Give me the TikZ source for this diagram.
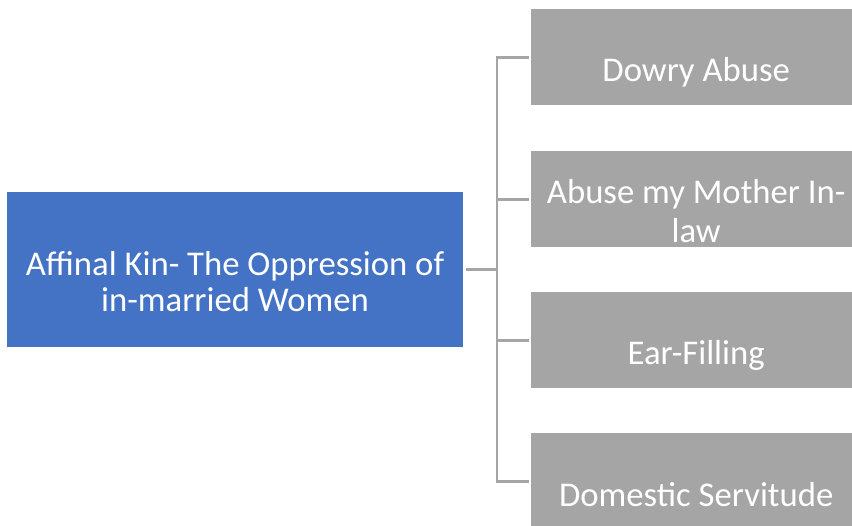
\documentclass[tikz,border=0pt]{standalone}
\usepackage{fontspec}
\setmainfont{Carlito}
\usetikzlibrary{calc}
\definecolor{hubblue}{HTML}{4472C4}
\definecolor{leafgray}{HTML}{A5A5A5}
\definecolor{linkgray}{HTML}{A5A5A5}
\begin{document}
\begin{tikzpicture}[x=1pt,y=-1pt,
  hub/.style={fill=hubblue, draw=none, minimum width=456pt, minimum height=155pt, inner sep=0pt},
  leaf/.style={fill=leafgray, draw=none, minimum width=330pt, minimum height=96pt, inner sep=0pt, anchor=north west},
  caption/.style={text=white, align=center, anchor=base, inner sep=0pt},
  link/.style={draw=linkgray, line width=2.8pt}]
  \useasboundingbox (0,0) rectangle (852,526);
  \clip (0,0) rectangle (852,526);

  % central topic
  \node[hub] (hub) at (235,269.5) {};
  % branch boxes
  \node[leaf] (l1) at (531,9) {};
  \node[leaf] (l2) at (531,151) {};
  \node[leaf] (l3) at (531,292) {};
  \node[leaf] (l4) at (531,433) {};

  % vertical spine of the bracket
  \coordinate (spine) at (497,269);
  \foreach \leafname in {l1,l2,l3,l4}
    \draw[link] ([xshift=3pt]hub.east) -- (spine |- hub.east) |- ([xshift=-2pt]\leafname.west);

  % texts (the base anchor sits on the last line)
  \node[caption, font=\fontsize{34.7}{36}\selectfont] (thub) at ($(hub.north)+(0,120)$)
    {Affinal Kin- The Oppression of\\in-married Women};
  \node[caption, font=\fontsize{34.7}{39}\selectfont] (t1) at ($(l1.north)+(0,73)$) {Dowry Abuse};
  \node[caption, font=\fontsize{34.7}{39}\selectfont] (t2) at ($(l2.north)+(0,92)$) {Abuse my Mother In-\\law};
  \node[caption, font=\fontsize{34.7}{39}\selectfont] (t3) at ($(l3.north)+(0,73)$) {Ear-Filling};
  \node[caption, font=\fontsize{34.7}{39}\selectfont] (t4) at ($(l4.north)+(0,74)$) {Domestic Servitude};
\end{tikzpicture}
\end{document}
